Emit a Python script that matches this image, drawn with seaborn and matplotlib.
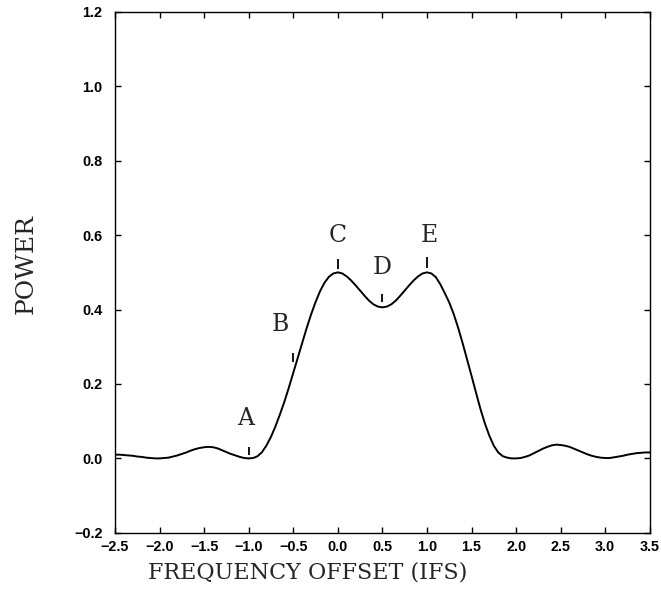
import numpy as np
import pandas as pd
import seaborn as sns
import matplotlib.pyplot as plt

# frequency offset grid (IFS), 0.05 steps, and the power
offset = np.round(np.arange(-2.5, 3.501, 0.05), 2)
power = [
    0.010, 0.010, 0.009, 0.008, 0.007, 0.005, 0.004, 0.002, 0.001, 0.000,  # -2.5 .. -2.05
    0.000, 0.001, 0.002, 0.005, 0.008, 0.012, 0.016, 0.021, 0.025, 0.028,  # -2.0 .. -1.55
    0.030, 0.031, 0.030, 0.027, 0.022, 0.017, 0.012, 0.008, 0.004, 0.001,  # -1.5 .. -1.05
    0.000, 0.001, 0.006, 0.017, 0.035, 0.058, 0.086, 0.118, 0.152, 0.190,  # -1.0 .. -0.55
    0.230, 0.270, 0.310, 0.350, 0.387, 0.420, 0.449, 0.472, 0.488, 0.497,  # -0.5 .. -0.05
    0.500, 0.497, 0.489, 0.478, 0.465, 0.451, 0.437, 0.424, 0.414, 0.408,  #  0.0 ..  0.45
    0.406, 0.408, 0.414, 0.424, 0.437, 0.451, 0.465, 0.478, 0.489, 0.497,  #  0.5 ..  0.95
    0.500, 0.497, 0.487, 0.468, 0.444, 0.419, 0.388, 0.351, 0.310, 0.266,  #  1.0 ..  1.45
    0.222, 0.177, 0.133, 0.094, 0.061, 0.034, 0.016, 0.006, 0.002, 0.000,  #  1.5 ..  1.95
    0.000, 0.001, 0.004, 0.008, 0.014, 0.020, 0.026, 0.031, 0.035, 0.037,  #  2.0 ..  2.45
    0.036, 0.034, 0.031, 0.026, 0.021, 0.016, 0.011, 0.007, 0.004, 0.002,  #  2.5 ..  2.95
    0.001, 0.001, 0.003, 0.005, 0.007, 0.010, 0.012, 0.014, 0.015, 0.016,  #  3.0 ..  3.45
    0.016,                                                                 #  3.5
]

# marked points on the curve
mark_names = ["A", "B", "C", "D", "E"]
mark_x = [-1.0, -0.5, 0.0, 0.5, 1.0]
mark_lo = [0.008, 0.260, 0.509, 0.421, 0.513]
mark_hi = [0.030, 0.283, 0.536, 0.441, 0.540]
name_x = [-1.04, -0.64, 0.0, 0.5, 1.03]
name_y = [0.106, 0.360, 0.599, 0.513, 0.599]

xticks = [-2.5, -2.0, -1.5, -1.0, -0.5, 0.0, 0.5, 1.0, 1.5, 2.0, 2.5, 3.0, 3.5]
yticks = [-0.2, 0.0, 0.2, 0.4, 0.6, 0.8, 1.0, 1.2]


def fmt(v):
    return ("%.1f" % v).replace("-", "\u2212")


sns.set_theme(style="ticks")
plt.rcParams["font.family"] = ["DejaVu Sans"]

df = pd.DataFrame({"offset": offset, "power": power})

fig = plt.figure(figsize=(6.61, 5.94), dpi=100)
ax = fig.add_axes([0.174, 0.103, 0.809, 0.877])

sns.lineplot(data=df, x="offset", y="power", color="black", linewidth=1.4, ax=ax)
ax.vlines(mark_x, mark_lo, mark_hi, color="black", linewidth=1.3)
for n, x, y in zip(mark_names, name_x, name_y):
    ax.text(x, y, n, ha="center", va="center", family="DejaVu Serif", fontsize=17)

ax.set_xlim(-2.5, 3.5)
ax.set_ylim(-0.2, 1.2)
ax.set_xticks(xticks)
ax.set_yticks(yticks)
ax.set_xticklabels([fmt(t) for t in xticks])
ax.set_yticklabels([fmt(t) for t in yticks])
ax.tick_params(direction="in", length=4, width=1, top=True, right=True,
               labelsize=10.4, colors="black")
ax.tick_params(axis="x", pad=5)
ax.tick_params(axis="y", pad=9)
for lab in ax.get_xticklabels() + ax.get_yticklabels():
    lab.set_fontweight("bold")
    lab.set_family(["Liberation Sans", "DejaVu Sans"])
for sp in ax.spines.values():
    sp.set_linewidth(1.0)
    sp.set_color("black")

ax.set_xlabel("FREQUENCY OFFSET (IFS)", family="DejaVu Serif", fontsize=16)
ax.set_ylabel("POWER", family="DejaVu Serif", fontsize=18)
ax.xaxis.set_label_coords(0.361, -0.056)
ax.yaxis.set_label_coords(-0.145, 0.516)

fig.savefig("out.png", dpi=100)
